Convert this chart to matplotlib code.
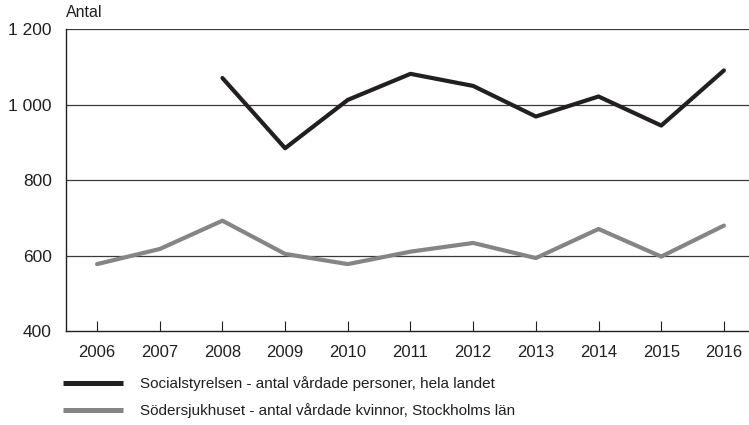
import matplotlib.pyplot as plt
from matplotlib.ticker import FuncFormatter

# Data
years = [2006, 2007, 2008, 2009, 2010, 2011, 2012, 2013, 2014, 2015, 2016]
socialstyrelsen_years = [2008, 2009, 2010, 2011, 2012, 2013, 2014, 2015, 2016]
socialstyrelsen = [1071, 885, 1013, 1082, 1050, 969, 1022, 945, 1091]
sodersjukhuset = [578, 618, 693, 605, 578, 611, 634, 594, 671, 598, 680]

label_black = "Socialstyrelsen - antal vårdade personer, hela landet"
label_gray = "Södersjukhuset - antal vårdade kvinnor, Stockholms län"

plt.rcParams['font.family'] = ['Liberation Sans', 'DejaVu Sans']

fig = plt.figure(figsize=(7.49, 4.25), dpi=100)
ax = fig.add_axes([65.7 / 749, 1 - 331.3 / 425, (749 - 65.7) / 749, (331.3 - 29.3) / 425])

for y in [600, 800, 1000, 1200]:
    ax.axhline(y, color='#3a3a3a', lw=0.9, zorder=1)

ax.plot(socialstyrelsen_years, socialstyrelsen, color='#231f20', lw=3.0,
        solid_capstyle='round', label=label_black, zorder=3)
ax.plot(years, sodersjukhuset, color='#858585', lw=3.0,
        solid_capstyle='round', label=label_gray, zorder=3)

ax.set_xlim(2005.5, 2016.4)
ax.set_ylim(400, 1200)
ax.set_xticks(years)
ax.set_yticks([400, 600, 800, 1000, 1200])
ax.yaxis.set_major_formatter(FuncFormatter(lambda v, p: f"{int(v):,}".replace(",", " ")))

for s in ['top', 'right']:
    ax.spines[s].set_visible(False)
ax.spines['left'].set_color('#231f20')
ax.spines['bottom'].set_color('#231f20')
ax.spines['left'].set_linewidth(1.0)
ax.spines['bottom'].set_linewidth(1.0)

ax.tick_params(axis='x', direction='in', length=7, width=0.8, color='#231f20',
               labelsize=12, pad=10, labelcolor='#231f20')
ax.tick_params(axis='y', length=0, labelsize=12.5, pad=10, labelcolor='#231f20')

ax.text(0, 1.03, "Antal", transform=ax.transAxes, fontsize=11.5,
        color='#231f20', ha='left', va='bottom')

leg = fig.legend(loc='upper left', bbox_to_anchor=(54 / 749, 1 - 367 / 425),
                 frameon=False, fontsize=11, handlelength=3.9, handletextpad=1.1,
                 labelspacing=0.8, labelcolor='#231f20', borderaxespad=0.2)
for line in leg.get_lines():
    line.set_linewidth(3.6)
    line.set_solid_capstyle('butt')

fig.savefig('out.png', dpi=100)
